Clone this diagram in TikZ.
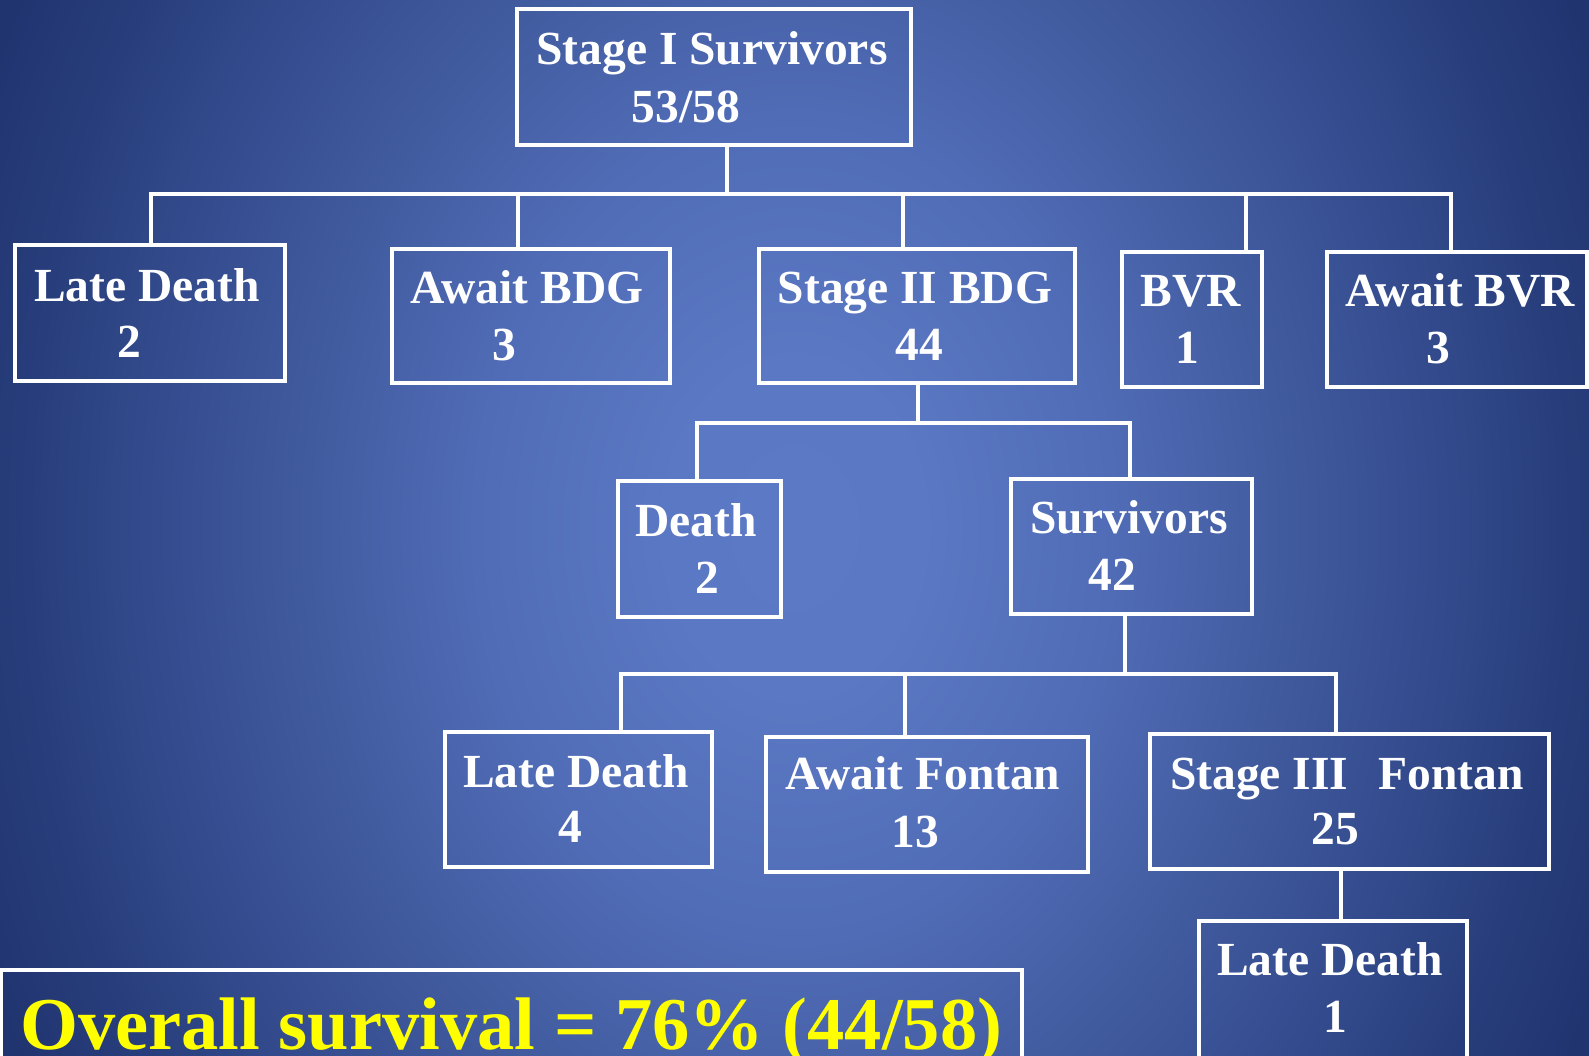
\documentclass[tikz,border=0pt]{standalone}
\usepackage{fontspec}
\setmainfont{Liberation Serif}
\definecolor{bgA}{RGB}{92,121,197}
\definecolor{bgB}{RGB}{91,120,196}
\definecolor{bgC}{RGB}{80,108,182}
\definecolor{bgD}{RGB}{66,92,160}
\definecolor{bgE}{RGB}{52,76,142}
\definecolor{bgF}{RGB}{40,62,124}
\definecolor{bgG}{RGB}{32,52,112}
\definecolor{bgH}{RGB}{28,46,104}
\definecolor{sumyellow}{RGB}{255,255,0}
\pgfdeclareradialshading{bgshade}{\pgfpoint{0bp}{0bp}}{color(0bp)=(bgA); color(8bp)=(bgB); color(20bp)=(bgC); color(30bp)=(bgD); color(40bp)=(bgE); color(48bp)=(bgF); color(55bp)=(bgG); color(72bp)=(bgH)}
\newcommand{\boxfont}{\fontsize{47.5}{57}\selectfont\bfseries}
\newcommand{\sumfont}{\fontsize{74.5}{86}\selectfont\bfseries}
\tikzset{
  box/.style={draw=white, line width=4pt, rectangle, inner sep=0pt},
  lbl/.style={text=white, font=\boxfont, anchor=base, inner sep=0pt},
  conn/.style={draw=white, line width=4pt, line join=miter},
}
\begin{document}
\begin{tikzpicture}[x=1pt,y=-1pt]
\useasboundingbox (0,0) rectangle (1589,1055);
\clip (0,0) rectangle (1589,1055);
\fill[bgH] (0,0) rectangle (1589,1055);
\begin{pgfscope}
  \pgftransformshift{\pgfpoint{794.5pt}{-527.5pt}}
  \pgftransformxscale{15.89}
  \pgftransformyscale{20.55}
  \pgflowlevelsynccm
  \pgfuseshading{bgshade}
\end{pgfscope}

% boxes
\node[box, minimum width=394pt, minimum height=136pt] (top) at (714,77) {};
\node[box, minimum width=270pt, minimum height=136pt] (ldA) at (150,313) {};
\node[box, minimum width=278pt, minimum height=134pt] (abdg) at (531,316) {};
\node[box, minimum width=316pt, minimum height=134pt] (stwo) at (917,316) {};
\node[box, minimum width=140pt, minimum height=135pt] (bvr) at (1192,319.5) {};
\node[box, minimum width=260pt, minimum height=135pt] (abvr) at (1457,319.5) {};
\node[box, minimum width=163pt, minimum height=136pt] (death) at (699.5,549) {};
\node[box, minimum width=241pt, minimum height=135pt] (surv) at (1131.5,546.5) {};
\node[box, minimum width=267pt, minimum height=135pt] (ldB) at (578.5,799.5) {};
\node[box, minimum width=322pt, minimum height=135pt] (afon) at (927,804.5) {};
\node[box, minimum width=399pt, minimum height=135pt] (sthree) at (1349.5,801.5) {};
\node[box, minimum width=268pt, minimum height=139pt] (ldC) at (1333,990.5) {};
\node[box, minimum width=1021pt, minimum height=100pt] (sumbox) at (511.5,1020) {};

% texts
\node[lbl] (topA) at (712,64) {Stage I Survivors};
\node[lbl] (topB) at (686,122) {53/58};
\node[lbl] (ldAa) at (147,301) {Late Death};
\node[lbl] (ldAb) at (129,357) {2};
\node[lbl] (abdga) at (527,303) {Await BDG};
\node[lbl] (abdgb) at (504,360) {3};
\node[lbl] (stwoa) at (915,303) {Stage II BDG};
\node[lbl] (stwob) at (919,360) {44};
\node[lbl] (bvra) at (1191,306) {BVR};
\node[lbl] (bvrb) at (1187,363) {1};
\node[lbl] (abvra) at (1460,306) {Await BVR};
\node[lbl] (abvrb) at (1438,363) {3};
\node[lbl] (deatha) at (696,536) {Death};
\node[lbl] (deathb) at (707,593) {2};
\node[lbl] (surva) at (1129,533) {Survivors};
\node[lbl] (survb) at (1112,590) {42};
\node[lbl] (ldBa) at (576,787) {Late Death};
\node[lbl] (ldBb) at (570,842) {4};
\node[lbl] (afona) at (923,789) {Await Fontan};
\node[lbl] (afonb) at (915,847) {13};
\node[lbl] (sthreea) at (1347,789) {Stage III\hspace{0.64em}Fontan};
\node[lbl] (sthreeb) at (1335,844) {25};
\node[lbl] (ldCa) at (1330,975) {Late Death};
\node[lbl] (ldCb) at (1335,1032) {1};
\node[text=sumyellow, font=\sumfont, anchor=base west, inner sep=0pt] (sumtxt) at (20,1049) {Overall survival = 76\% (44/58)};

% level 1 connectors
\coordinate (busA) at (0,194);
\coordinate (sA) at ([xshift=13pt]top.south);
\coordinate (tA) at ([xshift=1pt]ldA.north);
\coordinate (tB) at ([xshift=-13pt]abdg.north);
\coordinate (tC) at ([xshift=-14pt]stwo.north);
\coordinate (tD) at ([xshift=54pt]bvr.north);
\coordinate (tE) at ([xshift=-6pt]abvr.north);
\draw[conn] (sA) -- (sA |- busA);
\draw[conn] (tA) -- (tA |- busA) -- (tE |- busA) -- (tE);
\draw[conn] (tB) -- (tB |- busA);
\draw[conn] (tC) -- (tC |- busA);
\draw[conn] (tD) -- (tD |- busA);

% level 2
\coordinate (busB) at (0,423);
\coordinate (sB) at ([xshift=1pt]stwo.south);
\coordinate (tF) at ([xshift=-2.5pt]death.north);
\coordinate (tG) at ([xshift=-1.5pt]surv.north);
\draw[conn] (sB) -- (sB |- busB);
\draw[conn] (tF) -- (tF |- busB) -- (tG |- busB) -- (tG);

% level 3
\coordinate (busC) at (0,674);
\coordinate (sC) at ([xshift=-6.5pt]surv.south);
\coordinate (tH) at ([xshift=42.5pt]ldB.north);
\coordinate (tI) at ([xshift=-22pt]afon.north);
\coordinate (tJ) at ([xshift=-13.5pt]sthree.north);
\draw[conn] (sC) -- (sC |- busC);
\draw[conn] (tH) -- (tH |- busC) -- (tJ |- busC) -- (tJ);
\draw[conn] (tI) -- (tI |- busC);

% level 4
\coordinate (sD) at ([xshift=-8.5pt]sthree.south);
\draw[conn] (sD) -- (sD |- ldC.north);
\end{tikzpicture}
\end{document}
